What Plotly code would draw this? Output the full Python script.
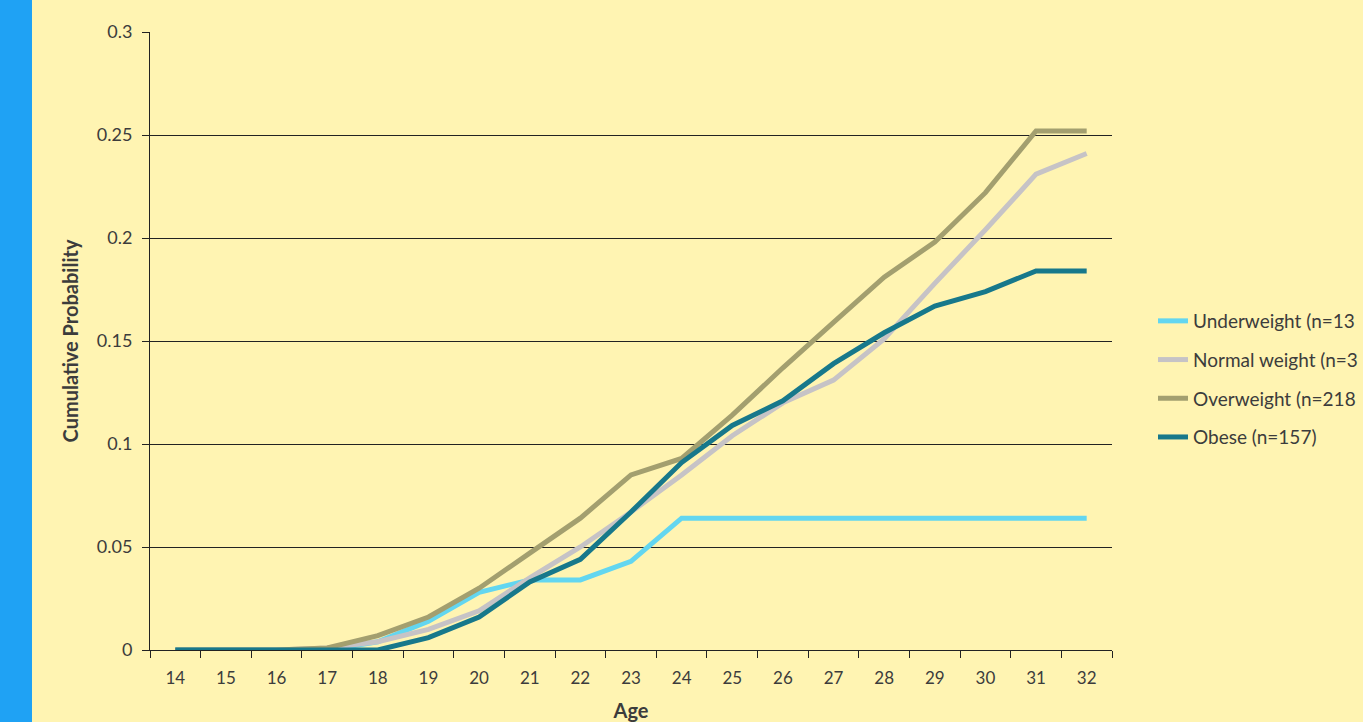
import plotly.graph_objects as go

# Age categories on the x axis
ages = [str(a) for a in range(14, 33)]

# Cumulative probability by age for each weight group
underweight = [0, 0, 0, 0, 0.004, 0.014, 0.028, 0.034, 0.034, 0.043,
               0.064, 0.064, 0.064, 0.064, 0.064, 0.064, 0.064, 0.064, 0.064]
normal_weight = [0, 0, 0, 0.001, 0.004, 0.010, 0.019, 0.035, 0.050, 0.067,
                 0.085, 0.104, 0.120, 0.131, 0.151, 0.178, 0.204, 0.231, 0.241]
overweight = [0, 0, 0, 0.001, 0.007, 0.016, 0.030, 0.047, 0.064, 0.085,
              0.093, 0.114, 0.137, 0.159, 0.181, 0.198, 0.222, 0.252, 0.252]
obese = [0, 0, 0, 0, 0, 0.006, 0.016, 0.033, 0.044, 0.067,
         0.091, 0.109, 0.121, 0.139, 0.154, 0.167, 0.174, 0.184, 0.184]

# Legend labels run off the right edge of the slide
series_names = ["Underweight (n=13", "Normal weight (n=3",
                "Overweight (n=218", "Obese (n=157)"]
series_values = [underweight, normal_weight, overweight, obese]
series_colors = ["#63D6F0", "#C6C3C6", "#A39F6F", "#17788B"]

y_ticks = [0, 0.05, 0.1, 0.15, 0.2, 0.25, 0.3]
y_tick_labels = ["0", "0.05", "0.1", "0.15", "0.2", "0.25", "0.3"]

BG = "#FFF4B2"
TEXT = "#3C3C3C"
FONT = "Lato"

fig = go.Figure()
for i, (name, vals, col) in enumerate(zip(series_names, series_values, series_colors)):
    fig.add_trace(go.Scatter(
        x=ages, y=vals, name=name, mode="lines",
        line=dict(color=col, width=5),
        legendgroup=f"g{i}",
    ))

fig.update_layout(
    width=1363, height=722,
    margin=dict(l=150, r=251, t=32, b=72, autoexpand=False),
    paper_bgcolor=BG, plot_bgcolor=BG,
    font=dict(family=FONT, size=17, color=TEXT),
    showlegend=True,
    legend=dict(
        x=1.0426, xanchor="left", y=0.4385, yanchor="middle",
        bgcolor="rgba(0,0,0,0)", font=dict(family=FONT, size=19, color=TEXT),
        tracegroupgap=11, traceorder="grouped",
    ),
    xaxis=dict(
        type="category", categoryorder="array", categoryarray=ages,
        range=[-0.5, len(ages) - 0.5],
        tickson="boundaries", ticks="outside", ticklen=7, tickcolor="#222222",
        showline=True, linecolor="#222222", linewidth=1,
        showgrid=False, zeroline=False,
        tickfont=dict(family=FONT, size=17, color=TEXT),
        ticklabelstandoff=13,
        title=dict(text="<b>Age</b>", font=dict(family=FONT, size=20, color=TEXT), standoff=16),
    ),
    yaxis=dict(
        range=[0, 0.3], tickvals=y_ticks, ticktext=y_tick_labels,
        ticks="outside", ticklen=7, tickcolor="#222222",
        showline=True, linecolor="#222222", linewidth=1,
        showgrid=True, gridcolor="#222222", gridwidth=1, zeroline=False,
        tickfont=dict(family=FONT, size=18, color=TEXT),
        ticklabelstandoff=6,
        title=dict(text="<b>Cumulative Probability</b>",
                   font=dict(family=FONT, size=20, color=TEXT), standoff=12),
    ),
)

# Blue strip along the left edge of the slide
fig.add_shape(type="rect", xref="paper", yref="paper",
              x0=-150 / 962, x1=-118 / 962, y0=-1, y1=2,
              fillcolor="#1FA2F4", line=dict(width=0), layer="below")

fig.write_html("out.html")
